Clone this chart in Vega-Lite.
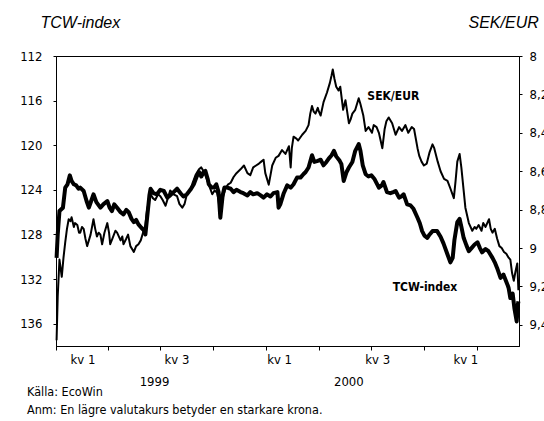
{
"$schema": "https://vega.github.io/schema/vega-lite/v6.json",
"width": 463, "height": 290,
"autosize": {"type": "none"},
"padding": {"left": 56, "top": 56, "right": 25, "bottom": 75},
"background": "white",
"config": {
 "view": {"stroke": "black", "strokeWidth": 1},
 "font": "DejaVu Sans Condensed",
 "axis": {"grid": false, "domainColor": "black", "tickColor": "black", "labelColor": "black", "labelFont": "DejaVu Sans Condensed", "labelFontSize": 13, "domainWidth": 1, "tickWidth": 1}
},
"datasets": {
 "tcw": [
{"d":"1999-01-02","v":130.1},{"d":"1999-01-04","v":128.0},{"d":"1999-01-07","v":125.9},{"d":"1999-01-13","v":125.6},{"d":"1999-01-17","v":123.8},{"d":"1999-01-21","v":123.5},{"d":"1999-01-25","v":122.7},{"d":"1999-01-28","v":123.2},{"d":"1999-02-01","v":123.5},{"d":"1999-02-05","v":123.6},{"d":"1999-02-09","v":123.9},{"d":"1999-02-12","v":123.8},{"d":"1999-02-18","v":124.1},{"d":"1999-02-23","v":125.0},{"d":"1999-02-27","v":125.6},{"d":"1999-03-03","v":125.0},{"d":"1999-03-07","v":124.4},{"d":"1999-03-12","v":125.1},{"d":"1999-03-19","v":125.6},{"d":"1999-03-24","v":125.3},{"d":"1999-03-31","v":125.0},{"d":"1999-04-04","v":125.6},{"d":"1999-04-08","v":125.9},{"d":"1999-04-12","v":125.3},{"d":"1999-04-17","v":125.6},{"d":"1999-04-23","v":126.0},{"d":"1999-04-28","v":126.2},{"d":"1999-05-03","v":125.8},{"d":"1999-05-07","v":126.0},{"d":"1999-05-12","v":126.6},{"d":"1999-05-16","v":126.9},{"d":"1999-05-20","v":126.7},{"d":"1999-05-24","v":127.1},{"d":"1999-05-29","v":127.4},{"d":"1999-06-02","v":127.6},{"d":"1999-06-05","v":128.0},{"d":"1999-06-08","v":126.5},{"d":"1999-06-12","v":124.5},{"d":"1999-06-14","v":123.9},{"d":"1999-06-19","v":124.3},{"d":"1999-06-25","v":124.4},{"d":"1999-07-01","v":124.0},{"d":"1999-07-07","v":124.1},{"d":"1999-07-13","v":124.7},{"d":"1999-07-18","v":124.5},{"d":"1999-07-24","v":124.2},{"d":"1999-07-30","v":123.9},{"d":"1999-08-05","v":124.3},{"d":"1999-08-10","v":124.6},{"d":"1999-08-16","v":124.4},{"d":"1999-08-22","v":124.0},{"d":"1999-08-28","v":123.5},{"d":"1999-09-02","v":122.8},{"d":"1999-09-06","v":122.4},{"d":"1999-09-10","v":122.8},{"d":"1999-09-14","v":122.4},{"d":"1999-09-17","v":122.3},{"d":"1999-09-21","v":123.0},{"d":"1999-09-23","v":123.5},{"d":"1999-09-28","v":123.8},{"d":"1999-10-02","v":123.8},{"d":"1999-10-06","v":123.5},{"d":"1999-10-10","v":124.2},{"d":"1999-10-13","v":126.5},{"d":"1999-10-17","v":124.5},{"d":"1999-10-20","v":123.8},{"d":"1999-10-25","v":123.8},{"d":"1999-10-31","v":123.9},{"d":"1999-11-05","v":124.2},{"d":"1999-11-10","v":124.0},{"d":"1999-11-17","v":124.2},{"d":"1999-11-22","v":124.3},{"d":"1999-11-29","v":124.5},{"d":"1999-12-04","v":124.2},{"d":"1999-12-09","v":124.4},{"d":"1999-12-16","v":124.3},{"d":"1999-12-22","v":124.5},{"d":"1999-12-27","v":124.7},{"d":"2000-01-02","v":124.4},{"d":"2000-01-08","v":124.6},{"d":"2000-01-13","v":124.3},{"d":"2000-01-20","v":124.2},{"d":"2000-01-22","v":125.6},{"d":"2000-01-25","v":125.3},{"d":"2000-01-31","v":124.3},{"d":"2000-02-06","v":123.6},{"d":"2000-02-12","v":123.8},{"d":"2000-02-17","v":123.5},{"d":"2000-02-23","v":122.9},{"d":"2000-02-29","v":122.9},{"d":"2000-03-05","v":122.6},{"d":"2000-03-09","v":122.4},{"d":"2000-03-14","v":122.0},{"d":"2000-03-20","v":120.9},{"d":"2000-03-24","v":121.5},{"d":"2000-03-30","v":121.4},{"d":"2000-04-04","v":121.3},{"d":"2000-04-09","v":121.8},{"d":"2000-04-14","v":121.5},{"d":"2000-04-18","v":121.2},{"d":"2000-04-23","v":120.9},{"d":"2000-04-27","v":120.5},{"d":"2000-05-01","v":121.0},{"d":"2000-05-07","v":121.4},{"d":"2000-05-10","v":121.7},{"d":"2000-05-14","v":123.2},{"d":"2000-05-19","v":122.4},{"d":"2000-05-23","v":122.0},{"d":"2000-05-29","v":121.5},{"d":"2000-06-03","v":120.5},{"d":"2000-06-09","v":119.9},{"d":"2000-06-12","v":120.5},{"d":"2000-06-16","v":121.8},{"d":"2000-06-21","v":122.6},{"d":"2000-06-26","v":122.8},{"d":"2000-07-01","v":122.7},{"d":"2000-07-06","v":123.0},{"d":"2000-07-10","v":123.4},{"d":"2000-07-14","v":123.8},{"d":"2000-07-19","v":123.6},{"d":"2000-07-22","v":123.3},{"d":"2000-07-28","v":124.2},{"d":"2000-08-03","v":124.3},{"d":"2000-08-08","v":124.2},{"d":"2000-08-12","v":124.1},{"d":"2000-08-18","v":124.7},{"d":"2000-08-22","v":124.6},{"d":"2000-08-26","v":124.4},{"d":"2000-09-01","v":125.3},{"d":"2000-09-07","v":125.4},{"d":"2000-09-12","v":125.7},{"d":"2000-09-19","v":126.5},{"d":"2000-09-23","v":127.0},{"d":"2000-09-27","v":127.7},{"d":"2000-10-01","v":128.1},{"d":"2000-10-06","v":128.3},{"d":"2000-10-10","v":128.0},{"d":"2000-10-15","v":127.7},{"d":"2000-10-23","v":127.7},{"d":"2000-10-29","v":128.2},{"d":"2000-11-03","v":128.8},{"d":"2000-11-10","v":129.8},{"d":"2000-11-15","v":130.5},{"d":"2000-11-19","v":130.1},{"d":"2000-11-22","v":128.5},{"d":"2000-11-27","v":126.9},{"d":"2000-12-01","v":126.6},{"d":"2000-12-04","v":127.3},{"d":"2000-12-08","v":128.3},{"d":"2000-12-13","v":129.0},{"d":"2000-12-17","v":129.5},{"d":"2000-12-22","v":129.2},{"d":"2000-12-27","v":128.9},{"d":"2001-01-01","v":128.7},{"d":"2001-01-05","v":129.2},{"d":"2001-01-09","v":129.6},{"d":"2001-01-15","v":129.3},{"d":"2001-01-20","v":129.5},{"d":"2001-01-27","v":130.1},{"d":"2001-01-31","v":130.5},{"d":"2001-02-04","v":131.0},{"d":"2001-02-10","v":131.9},{"d":"2001-02-15","v":131.6},{"d":"2001-02-22","v":132.5},{"d":"2001-02-24","v":132.8},{"d":"2001-02-27","v":133.7},{"d":"2001-03-03","v":133.3},{"d":"2001-03-06","v":134.6},{"d":"2001-03-10","v":135.8},{"d":"2001-03-12","v":134.3},{"d":"2001-03-13","v":134.0}
 ],
 "sek": [
{"d":"1999-01-02","v":9.48},{"d":"1999-01-04","v":9.25},{"d":"1999-01-07","v":9.06},{"d":"1999-01-11","v":9.15},{"d":"1999-01-14","v":9.05},{"d":"1999-01-17","v":8.97},{"d":"1999-01-20","v":8.90},{"d":"1999-01-23","v":8.85},{"d":"1999-01-26","v":8.86},{"d":"1999-01-28","v":8.84},{"d":"1999-02-01","v":8.89},{"d":"1999-02-03","v":8.87},{"d":"1999-02-07","v":8.88},{"d":"1999-02-10","v":8.92},{"d":"1999-02-12","v":8.92},{"d":"1999-02-15","v":8.89},{"d":"1999-02-18","v":8.90},{"d":"1999-02-21","v":8.95},{"d":"1999-02-24","v":8.99},{"d":"1999-02-27","v":8.96},{"d":"1999-03-02","v":8.93},{"d":"1999-03-07","v":8.85},{"d":"1999-03-10","v":8.90},{"d":"1999-03-13","v":8.94},{"d":"1999-03-16","v":8.92},{"d":"1999-03-19","v":8.93},{"d":"1999-03-22","v":8.98},{"d":"1999-03-26","v":8.92},{"d":"1999-03-31","v":8.87},{"d":"1999-04-03","v":8.92},{"d":"1999-04-05","v":8.98},{"d":"1999-04-09","v":8.95},{"d":"1999-04-14","v":8.91},{"d":"1999-04-17","v":8.92},{"d":"1999-04-23","v":8.96},{"d":"1999-04-26","v":8.94},{"d":"1999-04-28","v":8.98},{"d":"1999-05-03","v":8.95},{"d":"1999-05-06","v":8.93},{"d":"1999-05-10","v":8.99},{"d":"1999-05-16","v":9.02},{"d":"1999-05-20","v":8.99},{"d":"1999-05-24","v":8.98},{"d":"1999-05-28","v":8.96},{"d":"1999-06-02","v":8.91},{"d":"1999-06-05","v":8.88},{"d":"1999-06-08","v":8.80},{"d":"1999-06-14","v":8.72},{"d":"1999-06-18","v":8.74},{"d":"1999-06-22","v":8.75},{"d":"1999-06-27","v":8.72},{"d":"1999-07-01","v":8.73},{"d":"1999-07-05","v":8.75},{"d":"1999-07-10","v":8.78},{"d":"1999-07-13","v":8.75},{"d":"1999-07-18","v":8.70},{"d":"1999-07-24","v":8.72},{"d":"1999-07-30","v":8.73},{"d":"1999-08-03","v":8.77},{"d":"1999-08-08","v":8.79},{"d":"1999-08-12","v":8.77},{"d":"1999-08-16","v":8.72},{"d":"1999-08-22","v":8.70},{"d":"1999-08-26","v":8.66},{"d":"1999-08-31","v":8.62},{"d":"1999-09-06","v":8.59},{"d":"1999-09-10","v":8.58},{"d":"1999-09-14","v":8.60},{"d":"1999-09-17","v":8.62},{"d":"1999-09-23","v":8.67},{"d":"1999-09-29","v":8.72},{"d":"1999-10-03","v":8.70},{"d":"1999-10-07","v":8.71},{"d":"1999-10-10","v":8.75},{"d":"1999-10-13","v":8.84},{"d":"1999-10-17","v":8.74},{"d":"1999-10-22","v":8.69},{"d":"1999-10-26","v":8.67},{"d":"1999-10-31","v":8.66},{"d":"1999-11-05","v":8.63},{"d":"1999-11-10","v":8.61},{"d":"1999-11-17","v":8.59},{"d":"1999-11-23","v":8.57},{"d":"1999-11-29","v":8.61},{"d":"1999-12-04","v":8.62},{"d":"1999-12-09","v":8.58},{"d":"1999-12-14","v":8.57},{"d":"1999-12-19","v":8.56},{"d":"1999-12-23","v":8.55},{"d":"1999-12-27","v":8.54},{"d":"1999-12-30","v":8.61},{"d":"2000-01-05","v":8.67},{"d":"2000-01-08","v":8.62},{"d":"2000-01-11","v":8.57},{"d":"2000-01-17","v":8.53},{"d":"2000-01-22","v":8.52},{"d":"2000-01-28","v":8.49},{"d":"2000-02-03","v":8.51},{"d":"2000-02-09","v":8.47},{"d":"2000-02-12","v":8.58},{"d":"2000-02-14","v":8.48},{"d":"2000-02-17","v":8.42},{"d":"2000-02-22","v":8.43},{"d":"2000-02-25","v":8.44},{"d":"2000-03-03","v":8.41},{"d":"2000-03-09","v":8.39},{"d":"2000-03-14","v":8.36},{"d":"2000-03-17","v":8.30},{"d":"2000-03-20","v":8.26},{"d":"2000-03-23","v":8.29},{"d":"2000-03-26","v":8.30},{"d":"2000-03-30","v":8.27},{"d":"2000-04-01","v":8.29},{"d":"2000-04-04","v":8.31},{"d":"2000-04-09","v":8.24},{"d":"2000-04-15","v":8.19},{"d":"2000-04-20","v":8.14},{"d":"2000-04-23","v":8.10},{"d":"2000-04-25","v":8.07},{"d":"2000-04-28","v":8.12},{"d":"2000-05-01","v":8.16},{"d":"2000-05-05","v":8.18},{"d":"2000-05-08","v":8.16},{"d":"2000-05-13","v":8.28},{"d":"2000-05-17","v":8.23},{"d":"2000-05-23","v":8.35},{"d":"2000-05-26","v":8.33},{"d":"2000-05-29","v":8.30},{"d":"2000-06-03","v":8.28},{"d":"2000-06-09","v":8.22},{"d":"2000-06-12","v":8.25},{"d":"2000-06-17","v":8.31},{"d":"2000-06-21","v":8.39},{"d":"2000-06-26","v":8.37},{"d":"2000-07-02","v":8.40},{"d":"2000-07-05","v":8.36},{"d":"2000-07-10","v":8.37},{"d":"2000-07-14","v":8.40},{"d":"2000-07-20","v":8.48},{"d":"2000-07-24","v":8.38},{"d":"2000-07-27","v":8.34},{"d":"2000-07-31","v":8.32},{"d":"2000-08-06","v":8.35},{"d":"2000-08-12","v":8.41},{"d":"2000-08-18","v":8.37},{"d":"2000-08-23","v":8.39},{"d":"2000-08-29","v":8.36},{"d":"2000-09-03","v":8.40},{"d":"2000-09-09","v":8.37},{"d":"2000-09-13","v":8.38},{"d":"2000-09-19","v":8.48},{"d":"2000-09-22","v":8.52},{"d":"2000-09-26","v":8.55},{"d":"2000-09-30","v":8.57},{"d":"2000-10-05","v":8.56},{"d":"2000-10-10","v":8.50},{"d":"2000-10-15","v":8.46},{"d":"2000-10-18","v":8.48},{"d":"2000-10-24","v":8.55},{"d":"2000-10-29","v":8.60},{"d":"2000-11-04","v":8.64},{"d":"2000-11-10","v":8.65},{"d":"2000-11-15","v":8.69},{"d":"2000-11-21","v":8.74},{"d":"2000-11-24","v":8.65},{"d":"2000-11-27","v":8.55},{"d":"2000-12-01","v":8.51},{"d":"2000-12-04","v":8.58},{"d":"2000-12-08","v":8.70},{"d":"2000-12-11","v":8.79},{"d":"2000-12-17","v":8.87},{"d":"2000-12-23","v":8.91},{"d":"2000-12-27","v":8.89},{"d":"2000-12-30","v":8.90},{"d":"2001-01-03","v":8.88},{"d":"2001-01-08","v":8.91},{"d":"2001-01-11","v":8.87},{"d":"2001-01-15","v":8.89},{"d":"2001-01-21","v":8.85},{"d":"2001-01-24","v":8.90},{"d":"2001-01-27","v":8.92},{"d":"2001-01-31","v":8.90},{"d":"2001-02-04","v":8.95},{"d":"2001-02-08","v":8.99},{"d":"2001-02-12","v":9.00},{"d":"2001-02-16","v":9.02},{"d":"2001-02-20","v":9.03},{"d":"2001-02-24","v":9.05},{"d":"2001-02-27","v":9.06},{"d":"2001-03-02","v":9.13},{"d":"2001-03-05","v":9.17},{"d":"2001-03-08","v":9.12},{"d":"2001-03-11","v":9.08},{"d":"2001-03-13","v":9.22}
 ],
 "lab": [
{"d":"2000-08-08","v":115.6,"t":"SEK/EUR"},
{"d":"2000-10-02","v":132.75,"t":"TCW-index"}
 ]
},
"title": {
 "text": ["Källa: EcoWin", "Anm: En lägre valutakurs betyder en starkare krona."],
 "orient": "bottom", "anchor": "start", "frame": "group",
 "offset": -2, "dx": -29,
 "font": "DejaVu Sans Condensed", "fontSize": 12.5, "fontWeight": "normal",
 "lineHeight": 18, "color": "black"
},
"layer": [
 {
  "layer": [
   {
    "data": {"name": "tcw"},
    "mark": {"type": "line", "color": "black", "strokeWidth": 4, "strokeJoin": "round"},
    "encoding": {
     "x": {"field": "d", "type": "temporal",
      "scale": {"type": "utc", "domain": [{"year": 1999, "month": 1, "date": 1, "utc": true}, {"year": 2001, "month": 3, "date": 14, "utc": true}]},
      "axis": {"orient": "bottom", "title": null, "labels": false, "tickSize": 4, "domain": true,
       "values": [{"year":1999,"month":1,"date":1,"utc":true},{"year":1999,"month":4,"date":1,"utc":true},{"year":1999,"month":7,"date":1,"utc":true},{"year":1999,"month":10,"date":1,"utc":true},{"year":2000,"month":1,"date":1,"utc":true},{"year":2000,"month":4,"date":1,"utc":true},{"year":2000,"month":7,"date":1,"utc":true},{"year":2000,"month":10,"date":1,"utc":true},{"year":2001,"month":1,"date":1,"utc":true}]}},
     "y": {"field": "v", "type": "quantitative",
      "scale": {"domain": [112, 138], "reverse": true, "nice": false, "zero": false},
      "axis": {"orient": "left", "values": [112, 116, 120, 124, 128, 132, 136], "tickSize": 3, "labelPadding": 11,
       "title": "TCW-index", "titleAngle": 0, "titleAlign": "left", "titleBaseline": "alphabetic",
       "titleX": -16, "titleY": -29, "titleFont": "Liberation Sans", "titleFontStyle": "italic", "titleFontWeight": "normal", "titleFontSize": 16, "titleColor": "black"}}
    }
   },
   {
    "data": {"name": "lab"},
    "mark": {"type": "text", "font": "DejaVu Sans Condensed", "fontWeight": "bold", "fontSize": 12, "color": "black", "align": "center", "baseline": "middle"},
    "encoding": {
     "x": {"field": "d", "type": "temporal"},
     "y": {"field": "v", "type": "quantitative"},
     "text": {"field": "t"}
    }
   }
  ]
 },
 {
  "data": {"name": "sek"},
  "mark": {"type": "line", "color": "black", "strokeWidth": 2, "strokeJoin": "round"},
  "encoding": {
   "x": {"field": "d", "type": "temporal",
    "axis": {"orient": "bottom", "title": null, "ticks": false, "domain": false, "labelPadding": 7,
     "labelOverlap": false, "labelFlush": false, "labelBound": false, "labelAngle": 0, "labelAlign": "center", "labelBaseline": "top", "labelLineHeight": 22,
     "values": [{"year":1999,"month":2,"date":16,"utc":true},{"year":1999,"month":6,"date":20,"utc":true},{"year":1999,"month":7,"date":29,"utc":true},{"year":2000,"month":1,"date":23,"utc":true},{"year":2000,"month":5,"date":22,"utc":true},{"year":2000,"month":7,"date":11,"utc":true},{"year":2000,"month":12,"date":11,"utc":true}],
     "labelExpr": "utcmonth(datum.value) == 4 || utcmonth(datum.value) == 5 ? ['', utcFormat(datum.value, '%Y')] : utcmonth(datum.value) == 6 ? 'kv 3' : 'kv 1'"}},
   "y": {"field": "v", "type": "quantitative",
    "scale": {"domain": [8, 9.51], "reverse": true, "nice": false, "zero": false},
    "axis": {"orient": "right", "values": [8, 8.2, 8.4, 8.6, 8.8, 9, 9.2, 9.4], "tickSize": 3, "labelPadding": 7,
     "labelExpr": "replace(format(datum.value, '~g'), '.', ',')",
     "title": "SEK/EUR", "titleAngle": 0, "titleAlign": "left", "titleBaseline": "alphabetic",
     "titleX": -51, "titleY": -29, "titleFont": "Liberation Sans", "titleFontStyle": "italic", "titleFontWeight": "normal", "titleFontSize": 16, "titleColor": "black"}}
  }
 }
],
"resolve": {"scale": {"y": "independent"}, "axis": {"x": "independent", "y": "independent"}}
}
